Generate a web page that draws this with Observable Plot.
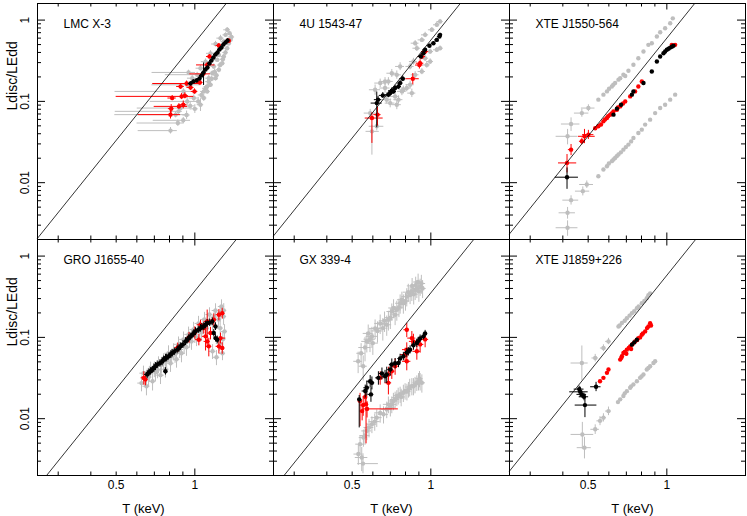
<!DOCTYPE html>
<html><head><meta charset="utf-8">
<script src="https://cdn.jsdelivr.net/npm/d3@7"></script>
<script src="https://cdn.jsdelivr.net/npm/@observablehq/plot@0.6"></script>
<style>body{margin:0;background:#fff;} svg{display:block;}</style>
</head><body><div id="chart"></div>
<script>
// Point rows: [T, L] (no bars), [T, L, eT, eL] (symmetric errors),
// or [T, L, eT-, eT+, eL-, eL+] (asymmetric errors).
const panelNames = ["LMC X-3","4U 1543-47","XTE J1550-564","GRO J1655-40","GX 339-4","XTE J1859+226"];
const lineCoef = [0.53,0.567,0.6,0.372,0.353,0.58]; // L/LEdd = k T^4
const xMinorTicks = [0.3,0.4,0.5,0.6,0.7,0.8,0.9];
const xMajorTicks = [1];
const xTickLabels = [0.5,1];
const yMinorTicks = [0.002,0.003,0.004,0.005,0.006,0.007,0.008,0.009,0.02,0.03,0.04,0.05,0.06,0.07,0.08,0.09,0.2,0.3,0.4,0.5,0.6,0.7,0.8,0.9];
const yMajorTicks = [0.01,0.1,1];

const lmcGray = [[0.807,0.0437,0.20,0.05,0.004,0.004],[0.861,0.0542,0.26,0.05,0.005,0.005],[0.903,0.0585,0.21,0.06,0.005,0.005],[0.844,0.0687,0.35,0.10,0.006,0.006],[0.882,0.0828,0.28,0.08,0.007,0.007],[0.935,0.100,0.26,0.07,0.012,0.015],[0.991,0.110,0.04,0.01],[1.051,0.0911,0.03,0.016],[1.082,0.110,0.03,0.01],[1.115,0.1326,0.03,0.01],[1.148,0.160,0.03,0.012],[1.200,0.193,0.03,0.015],[1.236,0.245,0.03,0.02],[1.273,0.295,0.03,0.02],[1.291,0.356,0.03,0.025],[1.330,0.451,0.03,0.03],[1.370,0.572,0.03,0.04],[1.358,0.689,0.03,0.04],[1.330,0.760,0.04,0.05],[1.311,0.658,0.03,0.04],[1.291,0.545,0.03,0.03],[1.254,0.451,0.03,0.03],[1.236,0.373,0.03,0.025],[1.218,0.324,0.03,0.02],[1.182,0.269,0.03,0.02],[1.166,0.222,0.03,0.015],[0.946,0.227,0.26,0.06,0.015,0.015],[1.131,0.193,0.03,0.015],[1.115,0.1527,0.03,0.012],[1.082,0.1326,0.03,0.01],[1.021,0.213,0.25,0.08,0.015,0.015],[0.935,0.160,0.25,0.12,0.012,0.012],[0.977,0.193,0.04,0.015],[1.051,0.256,0.04,0.02],[1.099,0.308,0.04,0.025],[1.148,0.39,0.04,0.03],[1.200,0.508,0.04,0.04],[1.254,0.60,0.04,0.05],[0.905,0.1326,0.41,0.06,0.01,0.01],[0.866,0.0754,0.37,0.03,0.006,0.006],
 [1.16,0.19,0.03,0.015],[1.19,0.23,0.03,0.02],[1.25,0.28,0.03,0.02],[1.28,0.33,0.03,0.025],[1.31,0.40,0.03,0.03],[1.35,0.52,0.03,0.04],[1.38,0.62,0.04,0.05],[1.06,0.12,0.03,0.01],[1.10,0.145,0.03,0.012],[1.03,0.10,0.03,0.012],[0.96,0.088,0.04,0.01],[0.93,0.068,0.03,0.008],[1.00,0.081,0.03,0.01],[1.13,0.175,0.03,0.015],[1.21,0.21,0.03,0.02]];
const lmcRed = [[0.819,0.110,0.03,0.008],[0.812,0.0814,0.02,0.01],[0.807,0.0687,0.20,0.075,0.008,0.009],[0.869,0.0868,0.17,0.07,0.007,0.007],[0.903,0.0911,0.03,0.01],[0.890,0.1152,0.39,0.10,0.01,0.01],[0.916,0.1175,0.03,0.01],[0.963,0.1485,0.03,0.012],[0.882,0.1527,0.03,0.012],[0.930,0.166,0.24,0.12,0.012,0.012],[1.045,0.171,0.03,0.012],[1.077,0.218,0.12,0.07,0.015,0.015],[1.115,0.281,0.10,0.08,0.02,0.02],[1.138,0.356,0.03,0.02],[1.236,0.486,0.03,0.03],[1.349,0.558,0.03,0.03],[0.997,0.1326,0.03,0.01]];
const lmcBlack = [[0.963,0.166,0.02,0.008],[0.988,0.176,0.02,0.008],[1.015,0.181,0.02,0.008],[1.042,0.191,0.02,0.01],[1.061,0.208,0.02,0.01],[1.080,0.227,0.02,0.07],[1.099,0.247,0.02,0.012],[1.118,0.261,0.02,0.012],[1.138,0.292,0.02,0.014],[1.158,0.318,0.02,0.015],[1.179,0.346,0.02,0.016],[1.200,0.377,0.02,0.018],[1.221,0.399,0.02,0.02],[1.243,0.435,0.02,0.02],[1.265,0.460,0.02,0.02],[1.287,0.500,0.02,0.025],[1.311,0.530,0.02,0.025],[1.334,0.560,0.02,0.03]];

const u1543Gray = [[0.586,0.0718,0.03,0.008],[0.595,0.0428,0.03,0.04,0.021,0.008],[0.621,0.0494,0.04,0.006],[0.612,0.139,0.03,0.02],[0.640,0.168,0.03,0.02],[0.668,0.146,0.03,0.02],[0.668,0.176,0.03,0.02],[0.709,0.222,0.03,0.025],[0.688,0.176,0.03,0.02],[0.741,0.212,0.03,0.025],[0.763,0.269,0.03,0.03],[0.678,0.105,0.03,0.012],[0.699,0.0953,0.03,0.012],[0.730,0.1152,0.03,0.014],[0.741,0.0911,0.03,0.012],[0.752,0.105,0.03,0.012],[0.775,0.1326,0.03,0.015],[0.785,0.139,0.03,0.015],[0.809,0.146,0.03,0.015],[0.833,0.160,0.03,0.018],[0.846,0.1264,0.03,0.015],[0.871,0.212,0.03,0.02],[0.833,0.269,0.03,0.025],[0.858,0.309,0.03,0.03],[0.871,0.52,0.03,0.04],[0.884,0.451,0.03,0.04],[0.924,0.571,0.03,0.04],[0.951,0.658,0.03,0.05],[1.009,0.76,0.03,0.05],[1.054,0.875,0.03,0.06],[1.085,0.959,0.03,0.06],[0.951,0.34,0.03,0.03],[0.994,0.41,0.03,0.03],[1.054,0.431,0.03,0.03],[1.085,0.451,0.03,0.03],[0.965,0.281,0.03,0.025],[0.924,0.233,0.03,0.02],[0.994,0.309,0.03,0.025]];
const u1543Red = [[0.595,0.0624,0.034,0.062,0.032,0.010],[0.625,0.0687,0.02,0.02,0.019,0.016],[0.853,0.190,0.05,0.05,0.03,0.03],[0.910,0.295,0.03,0.03],[0.924,0.356,0.03,0.03],[0.951,0.41,0.03,0.03],[0.904,0.28,0.03,0.03]];
const u1543Black = [[0.621,0.0953,0.03,0.03,0.048,0.035],[0.628,0.105,0.02,0.01],[0.655,0.1185,0.02,0.01],[0.688,0.121,0.02,0.01],[0.699,0.1264,0.02,0.01],[0.709,0.1353,0.02,0.01],[0.719,0.1326,0.02,0.01],[0.730,0.146,0.02,0.012],[0.752,0.1527,0.02,0.012],[0.763,0.168,0.02,0.012],[0.781,0.19,0.02,0.015],[0.916,0.356,0.02,0.02],[0.937,0.391,0.02,0.02],[0.951,0.431,0.02,0.02],[0.988,0.483,0.02,0.02],[1.023,0.52,0.02,0.025],[1.054,0.571,0.02,0.025],[1.079,0.627,0.02,0.03],[1.085,0.658,0.02,0.03]];

const j1550Gray = [[0.417,0.0372,0.04,0.008],[0.430,0.0527,0.035,0.01],[0.473,0.0718,0.03,0.008],[0.501,0.0828,0.03,0.008],[0.547,0.105],[0.572,0.121],[0.590,0.1326],[0.601,0.143],[0.616,0.1527],[0.624,0.160],[0.634,0.168],[0.653,0.185],[0.663,0.193],[0.682,0.213],[0.693,0.205],[0.713,0.238],[0.745,0.282],[0.778,0.34],[0.814,0.41],[0.850,0.496],[0.876,0.52],[0.916,0.627],[0.943,0.708],[0.985,0.793],[1.030,0.914],[1.054,1.05],
 [0.417,0.00279,0.04,0.0006],[0.417,0.00426,0.03,0.0007],[0.430,0.0061,0.03,0.0008],[0.477,0.00787,0.03,0.001],[0.494,0.0095,0.03,0.001],[0.547,0.0120],[0.572,0.01452],[0.590,0.01594],[0.600,0.0172],[0.616,0.0184],[0.625,0.0193],[0.634,0.0201],[0.643,0.0212],[0.653,0.0222],[0.667,0.0236],[0.682,0.0255],[0.697,0.0274],[0.713,0.0294],[0.73,0.0322],[0.745,0.0355],[0.778,0.0408],[0.802,0.0449],[0.826,0.0518],[0.863,0.0596],[0.902,0.0718],[0.943,0.0828],[0.985,0.0911],[1.030,0.105],[1.076,0.121]];
const j1550Red = [[0.415,0.0175,0.030,0.037,0.0043,0.0047],[0.430,0.0255,0.01,0.004],[0.473,0.0323,0.01,0.003],[0.484,0.0372,0.025,0.048,0.007,0.008],[0.501,0.039,0.025,0.005],[0.532,0.0468],[0.547,0.0494],[0.56,0.052],[0.572,0.0568],[0.58,0.060],[0.590,0.0624],[0.596,0.0655],[0.607,0.0687],[0.615,0.071],[0.625,0.0754],[0.644,0.079],[0.65,0.084],[0.663,0.0868],[0.68,0.094],[0.693,0.1],[0.724,0.1152],[0.756,0.1326],[0.778,0.1527],[0.802,0.176],[1.045,0.496],[1.076,0.496]];
const j1550Black = [[0.415,0.01168,0.041,0.044,0.0034,0.0035],[0.625,0.0687],[0.644,0.0814],[0.668,0.0911],[0.735,0.121],[0.745,0.1326],[0.814,0.168],[0.876,0.233],[0.916,0.309],[0.943,0.356],[0.971,0.391],[0.985,0.41],[1.0,0.431],[1.015,0.445],[1.030,0.459],[1.045,0.47],[1.060,0.483]];

const j1655Gray = [[0.625,0.0274,0.02,0.006],[0.636,0.0363,0.02,0.008],[0.653,0.0251,0.02,0.006],[0.665,0.0324,0.02,0.008],[0.677,0.0406,0.02,0.009],[0.689,0.0289,0.02,0.007],[0.707,0.0373,0.025,0.009],[0.726,0.0467,0.025,0.011],[0.739,0.0343,0.025,0.008],[0.759,0.0508,0.025,0.012],[0.772,0.0406,0.025,0.009],[0.793,0.0637,0.025,0.015],[0.807,0.0481,0.025,0.011],[0.829,0.0674,0.025,0.016],[0.851,0.0538,0.025,0.012],[0.866,0.0821,0.03,0.019],[0.889,0.0637,0.03,0.015],[0.905,0.0945,0.03,0.022],[0.929,0.0755,0.03,0.017],[0.946,0.1088,0.03,0.025],[0.971,0.0893,0.03,0.02],[0.989,0.1253,0.03,0.028],[1.015,0.1,0.03,0.023],[1.033,0.1484,0.03,0.033],[1.061,0.1151,0.03,0.026],[1.089,0.1661,0.03,0.037],[1.108,0.1289,0.03,0.03],[1.138,0.1912,0.035,0.04],[1.169,0.1484,0.035,0.033],[1.200,0.214,0.035,0.045],[1.232,0.1661,0.035,0.037],[1.265,0.2395,0.035,0.05],[1.288,0.1807,0.035,0.04],[1.276,0.0637,0.035,0.012],[1.243,0.0845,0.035,0.017],[1.299,0.1184,0.035,0.025],[1.169,0.0674,0.035,0.014],[1.210,0.0569,0.035,0.012],
 [0.645,0.031,0.02,0.007],[0.67,0.036,0.02,0.008],[0.70,0.041,0.02,0.009],[0.72,0.040,0.025,0.009],[0.745,0.046,0.025,0.01],[0.78,0.052,0.025,0.012],[0.815,0.058,0.025,0.013],[0.84,0.062,0.025,0.014],[0.875,0.071,0.03,0.016],[0.91,0.080,0.03,0.018],[0.955,0.095,0.03,0.021],[1.00,0.108,0.03,0.024],[1.045,0.125,0.03,0.028],[1.075,0.14,0.03,0.031],[1.12,0.16,0.03,0.035],[1.185,0.178,0.035,0.04],[1.25,0.20,0.035,0.045],[1.29,0.215,0.035,0.045],[1.25,0.13,0.035,0.028],[1.28,0.095,0.035,0.02]];
const j1655Red = [[0.638,0.0318,0.015,0.006],[0.647,0.0304,0.015,0.005],[1.051,0.143,0.03,0.02],[1.115,0.157,0.03,0.06],[1.182,0.1646,0.03,0.03],[1.236,0.19,0.03,0.03],[1.273,0.198,0.03,0.03],[1.115,0.0893,0.03,0.015],[1.131,0.0776,0.03,0.02],[1.236,0.0776,0.03,0.015],[1.273,0.074,0.03,0.012],[1.099,0.103,0.03,0.035],[1.254,0.098,0.06,0.015],[1.036,0.0937,0.03,0.015],[1.148,0.113,0.03,0.02],[1.082,0.130,0.03,0.02],[0.86,0.075,0.02,0.01],[0.95,0.10,0.02,0.015],[1.0,0.115,0.02,0.02]];
const j1655Black = [[0.657,0.035,0.015,0.004],[0.667,0.037,0.015,0.004],[0.677,0.0384,0.015,0.004],[0.687,0.040,0.015,0.004],[0.697,0.0421,0.015,0.005],[0.707,0.044,0.015,0.005],[0.718,0.0463,0.015,0.005],[0.735,0.048,0.015,0.005],[0.750,0.0508,0.015,0.006],[0.76,0.053,0.015,0.006],[0.772,0.0558,0.015,0.006],[0.78,0.056,0.015,0.006],[0.795,0.0585,0.015,0.006],[0.81,0.062,0.015,0.007],[0.819,0.0643,0.015,0.007],[0.835,0.067,0.015,0.007],[0.856,0.0707,0.015,0.008],[0.87,0.074,0.015,0.008],[0.882,0.0776,0.015,0.008],[0.90,0.082,0.015,0.009],[0.921,0.0893,0.015,0.01],[0.935,0.093,0.015,0.01],[0.948,0.098,0.015,0.01],[0.96,0.102,0.015,0.011],[0.977,0.1079,0.015,0.012],[0.99,0.112,0.015,0.012],[1.006,0.1184,0.015,0.013],[1.03,0.124,0.015,0.013],[1.051,0.130,0.015,0.014],[1.065,0.134,0.015,0.014],[1.082,0.1363,0.015,0.015],[1.10,0.143,0.015,0.015],[1.115,0.1496,0.015,0.016],[1.14,0.152,0.015,0.016],[1.166,0.157,0.015,0.017],[1.200,0.1363,0.015,0.015],[1.182,0.113,0.015,0.012],[1.200,0.098,0.015,0.01],[1.218,0.0937,0.015,0.01],[0.772,0.0384,0.01,0.004]];

const gx339Gray = [[0.527,0.0508,0.02,0.015],[0.541,0.0637,0.02,0.02],[0.551,0.0442,0.02,0.015],[0.569,0.0893,0.025,0.025],[0.576,0.1119,0.025,0.03],[0.595,0.103,0.03,0.03],[0.612,0.129,0.03,0.035],[0.640,0.1484,0.03,0.04],[0.678,0.143,0.03,0.04],[0.688,0.1646,0.03,0.045],[0.709,0.208,0.03,0.05],[0.730,0.1895,0.03,0.05],[0.741,0.218,0.03,0.06],[0.763,0.263,0.03,0.07],[0.785,0.263,0.03,0.07],[0.809,0.317,0.035,0.08],[0.833,0.333,0.035,0.08],[0.846,0.366,0.035,0.09],[0.871,0.384,0.035,0.1],[0.884,0.40,0.035,0.1],[0.910,0.42,0.035,0.1],[0.894,0.48,0.035,0.12],[0.848,0.43,0.035,0.1],
 [0.56,0.075,0.03,0.025],[0.585,0.095,0.03,0.03],[0.60,0.085,0.03,0.025],[0.625,0.12,0.03,0.035],[0.655,0.13,0.03,0.04],[0.665,0.16,0.03,0.045],[0.70,0.175,0.03,0.05],[0.72,0.23,0.03,0.06],[0.755,0.235,0.03,0.06],[0.775,0.29,0.03,0.07],[0.80,0.28,0.03,0.07],[0.82,0.36,0.035,0.09],[0.86,0.34,0.035,0.09],[0.875,0.44,0.035,0.11],[0.90,0.37,0.035,0.1],[0.92,0.46,0.035,0.12],[0.93,0.40,0.03,0.1],
 [0.544,0.00333,0.03,0.0011],[0.528,0.00367,0.02,0.001],[0.536,0.00486,0.02,0.0012],[0.552,0.00585,0.02,0.0014],[0.569,0.00707,0.025,0.0017],[0.595,0.00854,0.025,0.002],[0.621,0.0103,0.03,0.0025],[0.659,0.0113,0.03,0.0027],[0.678,0.0130,0.03,0.003],[0.688,0.0150,0.03,0.0035],[0.709,0.0150,0.03,0.0035],[0.719,0.0165,0.03,0.004],[0.741,0.0181,0.03,0.004],[0.763,0.0199,0.03,0.0045],[0.785,0.0208,0.03,0.005],[0.797,0.0219,0.03,0.005],[0.821,0.0229,0.03,0.005],[0.846,0.0251,0.03,0.006],[0.858,0.0251,0.03,0.006],[0.884,0.0276,0.03,0.006],[0.897,0.0289,0.03,0.007],[0.924,0.0276,0.03,0.007],[0.910,0.0289,0.03,0.007],
 [0.56,0.0062,0.025,0.0015],[0.58,0.0078,0.025,0.002],[0.61,0.0092,0.03,0.0022],[0.64,0.0118,0.03,0.003],[0.70,0.0138,0.03,0.0033],[0.73,0.0172,0.03,0.004],[0.75,0.0192,0.03,0.0045],[0.77,0.0185,0.03,0.0045],[0.81,0.0215,0.03,0.005],[0.83,0.0245,0.03,0.006],[0.87,0.0262,0.03,0.006],[0.905,0.031,0.03,0.007],[0.55,0.0028,0.025,0.08,0.0007,0.0009]];
const gx339Red = [[0.536,0.0165,0.01,0.01,0.0085,0.004],[0.551,0.0147,0.015,0.004],[0.565,0.0151,0.01,0.01,0.0102,0.005],[0.546,0.0124,0.01,0.003],[0.570,0.0132,0.019,0.181,0.003,0.003],[0.561,0.0185,0.01,0.004],[0.640,0.0318,0.02,0.006],[0.688,0.035,0.02,0.008],[0.709,0.0384,0.02,0.008],[0.688,0.0276,0.02,0.008],[0.730,0.0442,0.02,0.01],[0.797,0.0614,0.03,0.012],[0.809,0.0707,0.03,0.015],[0.809,0.0508,0.03,0.012],[0.846,0.098,0.03,0.02],[0.809,0.1243,0.02,0.025],[0.858,0.0893,0.03,0.02],[0.884,0.0674,0.03,0.015],[0.910,0.082,0.03,0.018],[0.951,0.0945,0.03,0.02]];
const gx339Black = [[0.910,0.097,0.015,0.01],[0.884,0.0852,0.015,0.01],[0.858,0.080,0.015,0.01],[0.833,0.0707,0.015,0.008],[0.809,0.065,0.015,0.008],[0.785,0.0585,0.015,0.007],[0.763,0.055,0.015,0.007],[0.752,0.0484,0.015,0.006],[0.709,0.0463,0.015,0.008],[0.699,0.0402,0.015,0.007],[0.678,0.035,0.015,0.008],[0.668,0.0333,0.015,0.006],[0.630,0.0318,0.015,0.006],[0.595,0.0276,0.015,0.005],[0.586,0.0289,0.015,0.005],[0.569,0.024,0.015,0.005],[0.561,0.0219,0.015,0.004],[0.59,0.0199,0.015,0.004],[0.532,0.0173,0.005,0.005,0.0096,0.002],[0.937,0.103,0.015,0.01],[0.951,0.112,0.015,0.01],[0.894,0.09,0.015,0.01],[0.82,0.067,0.015,0.008],[0.73,0.048,0.015,0.007],[0.65,0.036,0.015,0.006]];

const j1859Gray = [[0.863,0.348],[0.85,0.33],[0.838,0.303],[0.82,0.28],[0.802,0.263],[0.78,0.24],[0.768,0.228],[0.75,0.21],[0.735,0.198],[0.72,0.185],[0.703,0.172],[0.69,0.16],[0.673,0.150],[0.66,0.14],[0.653,0.136],[0.598,0.0893,0.015,0.008],[0.572,0.074,0.015,0.007],[0.532,0.0558,0.015,0.006],[0.473,0.0484,0.043,0.027,0.019,0.030],
 [0.663,0.0173],[0.682,0.019],[0.703,0.0218],[0.724,0.024],[0.745,0.0264],[0.768,0.0289],[0.790,0.0318],[0.814,0.035],[0.838,0.0402],[0.863,0.0442],[0.889,0.0484],[0.902,0.0508],[0.598,0.0124,0.015,0.0015],[0.572,0.0103,0.015,0.0012],[0.555,0.0094,0.015,0.0012],[0.532,0.0074,0.02,0.001],[0.475,0.0064,0.045,0.05,0.0022,0.0026],[0.484,0.0044,0.03,0.03,0.0012,0.0015],[0.65,0.016],[0.69,0.0205],[0.73,0.025],[0.80,0.033],[0.85,0.042]];
const j1859Red = [[0.863,0.1497],[0.87,0.14],[0.850,0.1363],[0.84,0.13],[0.826,0.1184],[0.81,0.112],[0.802,0.1079],[0.79,0.10],[0.778,0.098],[0.77,0.093],[0.756,0.0893],[0.74,0.083],[0.724,0.0776],[0.73,0.072],[0.715,0.074],[0.703,0.0707],[0.69,0.066],[0.70,0.063],[0.682,0.0643],[0.673,0.0585],[0.67,0.056],[0.663,0.0533],[0.598,0.0402],[0.590,0.0366],[0.572,0.0318],[0.555,0.0289]];
const j1859Black = [[0.735,0.0814],[0.750,0.0868],[0.768,0.0937],[0.536,0.0247,0.025,0.024,0.0032,0.0033],[0.466,0.0214,0.041,0.034,0.003,0.003],[0.473,0.0199,0.02,0.002],[0.482,0.0186,0.02,0.002],[0.486,0.0147,0.04,0.054,0.0044,0.0034],[0.462,0.0231,0.02,0.002]];

const panelSeries = [
  {gray: lmcGray, red: lmcRed, black: lmcBlack},
  {gray: u1543Gray, red: u1543Red, black: u1543Black},
  {gray: j1550Gray, red: j1550Red, black: j1550Black},
  {gray: j1655Gray, red: j1655Red, black: j1655Black},
  {gray: gx339Gray, red: gx339Red, black: gx339Black},
  {gray: j1859Gray, red: j1859Red, black: j1859Black}
];
const seriesOrder = ["gray","red","black"];
const seriesColors = {gray: "#bebebe", red: "#ff0000", black: "#000000"};

const xDomain = [0.25, 2], yDomain = [0.002, 1.6];
const W = 747, H = 516, mL = 37, mR = 2, mT = 2, mB = 41;
const fw = (W - mL - mR) / 3, fh = (H - mT - mB) / 2;

function expand(r) {
  const [T, L, ...e] = r;
  let tlo = T, thi = T, llo = L, lhi = L;
  if (e.length === 2) { tlo = T - e[0]; thi = T + e[0]; llo = L - e[1]; lhi = L + e[1]; }
  else if (e.length === 4) { tlo = T - e[0]; thi = T + e[1]; llo = L - e[2]; lhi = L + e[3]; }
  return {T, L, tlo: Math.max(tlo, 0.2), thi, llo: Math.max(llo, 0.0015), lhi};
}
const rows = [];
panelSeries.forEach((ps, i) => {
  for (const c of seriesOrder) for (const r of ps[c]) rows.push({...expand(r), c, col: i % 3, row: Math.floor(i / 3)});
});
const panels = panelNames.map((n, i) => ({n, col: i % 3, row: Math.floor(i / 3), k: lineCoef[i]}));
const lineData = panels.flatMap(p => {
  const t0 = Math.max(xDomain[0], Math.pow(yDomain[0] / p.k, 0.25));
  const t1 = Math.min(xDomain[1], Math.pow(yDomain[1] / p.k, 0.25));
  return [t0, t1].map(t => ({T: t, L: p.k * t ** 4, col: p.col, row: p.row, n: p.n}));
});

const FONT = "Liberation Sans, Arial, sans-serif";
const seriesMarks = seriesOrder.flatMap(c => {
  const d = rows.filter(r => r.c === c);
  return [
    Plot.ruleY(d.filter(r => r.tlo !== r.thi), {y: "L", x1: "tlo", x2: "thi", fx: "col", fy: "row", stroke: seriesColors[c], strokeWidth: 1}),
    Plot.ruleX(d.filter(r => r.llo !== r.lhi), {x: "T", y1: "llo", y2: "lhi", fx: "col", fy: "row", stroke: seriesColors[c], strokeWidth: 1}),
    Plot.dot(d, {x: "T", y: "L", r: 2.2, fill: seriesColors[c], fx: "col", fy: "row"})
  ];
});

const xTitleShift = [-12, 0, 5];
const xTitleMarks = [0, 1, 2].map(col =>
  Plot.text([col], {fx: d => d, fy: () => 1, text: () => "T (keV)", frameAnchor: "bottom", dx: xTitleShift[col], dy: 33, lineAnchor: "middle", fontSize: 13, letterSpacing: 1, fill: "#000"})
);

const plot = Plot.plot({
  width: W, height: H,
  marginLeft: mL, marginRight: mR, marginTop: mT, marginBottom: mB,
  style: {fontFamily: FONT, background: "#fff", color: "#000"},
  fx: {domain: [0, 1, 2], padding: 0, axis: null},
  fy: {domain: [0, 1], padding: 0, axis: null},
  x: {type: "log", domain: xDomain},
  y: {type: "log", domain: yDomain},
  marks: [
    ...seriesMarks,
    Plot.line(lineData, {x: "T", y: "L", z: "n", fx: "col", fy: "row", stroke: "#000", strokeWidth: 0.8}),
    Plot.tickX(xMinorTicks, {x: d => d, insetTop: fh - 4, stroke: "#000"}),
    Plot.tickX(xMinorTicks, {x: d => d, insetBottom: fh - 4, stroke: "#000"}),
    Plot.tickX(xMajorTicks, {x: d => d, insetTop: fh - 7, stroke: "#000"}),
    Plot.tickX(xMajorTicks, {x: d => d, insetBottom: fh - 7, stroke: "#000"}),
    Plot.tickY(yMinorTicks, {y: d => d, insetRight: fw - 4, stroke: "#000"}),
    Plot.tickY(yMinorTicks, {y: d => d, insetLeft: fw - 4, stroke: "#000"}),
    Plot.tickY(yMajorTicks, {y: d => d, insetRight: fw - 8, stroke: "#000"}),
    Plot.tickY(yMajorTicks, {y: d => d, insetLeft: fw - 8, stroke: "#000"}),
    Plot.frame({stroke: "#000", strokeWidth: 1}),
    Plot.axisX({ticks: xTickLabels, tickFormat: d => String(d), tickSize: 0, tickPadding: 5, fontSize: 12, label: null, anchor: "bottom", facetAnchor: "bottom"}),
    Plot.axisY({ticks: yMajorTicks, tickFormat: d => String(d), tickSize: 0, tickPadding: 12, fontSize: 12, rotate: -90, textAnchor: "middle", label: null, anchor: "left", facetAnchor: "left"}),
    Plot.text(panels, {fx: "col", fy: "row", text: "n", frameAnchor: "top-left", dx: 26, dy: 21, lineAnchor: "middle", textAnchor: "start", fontSize: 12, letterSpacing: 0.3, fill: "#000"}),
    ...xTitleMarks,
    Plot.text([0, 1], {fx: () => 0, fy: d => d, text: () => "Ldisc/LEdd", frameAnchor: "left", rotate: -90, dx: -25, dy: -11, lineAnchor: "middle", fontSize: 14, fill: "#000", ariaLabel: "ylabel"})
  ]
});
document.getElementById("chart").appendChild(plot);

// typeset subscripts in the y title
d3.select(plot).selectAll('g[aria-label="ylabel"] text').each(function() {
  const el = d3.select(this);
  el.text(null).style("letter-spacing", "1px");
  el.append("tspan").text("L");
  el.append("tspan").style("font-size", "11px").attr("dy", 3).text("disc");
  el.append("tspan").attr("dy", -3).text("/L");
  el.append("tspan").style("font-size", "11px").attr("dy", 3).text("Edd");
});
</script></body></html>
